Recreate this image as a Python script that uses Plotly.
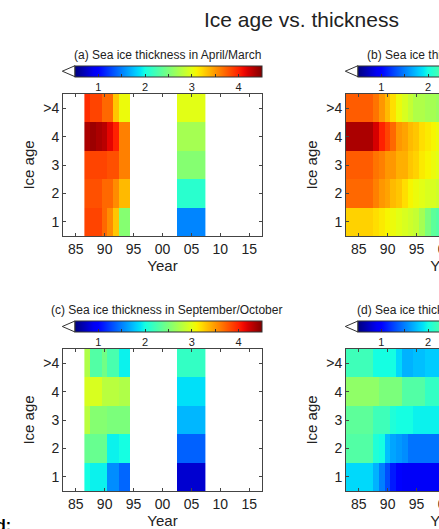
import plotly.graph_objects as go

# ---------------- data ----------------
age_labels = ["1", "2", "3", "4", ">4"]
age_pos = [1, 2, 3, 4, 5]
year_ticks = [1985, 1990, 1995, 2000, 2005, 2010, 2015]
year_ticktext = ["85", "90", "95", "00", "05", "10", "15"]
cbar_ticks = [1, 1.5, 2, 2.5, 3, 3.5, 4]
cbar_ticktext = ["1", "", "2", "", "3", "", "4"]

sub_years = [1987, 1988, 1989, 1990, 1991, 1992, 1993, 1994]
icesat_years = [2003, 2004, 2005, 2006, 2007]
model_years = list(range(1983, 2000))

# (a) spring observations: submarine rows by age (1,2,3,4,>4)
sub_spring = [
    [3.85, 3.85, 3.85, 3.70, 3.55, 3.30, 2.55, 2.55],
    [3.80, 3.80, 3.80, 3.70, 3.70, 3.55, 3.35, 3.35],
    [3.85, 3.85, 3.85, 3.85, 3.80, 3.80, 3.60, 3.60],
    [4.35, 4.40, 4.35, 4.30, 4.15, 4.00, 3.60, 3.60],
    [3.95, 3.85, 3.85, 3.70, 3.70, 3.30, 3.05, 3.05],
]
icesat_spring = [1.52, 2.10, 2.55, 2.70, 3.00]

# (c) autumn observations
sub_autumn = [
    [2.00, 1.95, 1.95, 1.95, 1.55, 1.55, 1.40, 1.40],
    [2.40, 2.40, 2.40, 2.40, 1.95, 1.95, 2.00, 2.00],
    [2.80, 2.55, 2.55, 2.55, 2.50, 2.50, 2.50, 2.50],
    [2.95, 2.95, 2.95, 2.80, 2.80, 2.80, 2.75, 2.75],
    [2.75, 2.30, 2.30, 2.45, 2.25, 2.25, 1.95, 1.95],
]
icesat_autumn = [0.78, 1.38, 1.72, 1.88, 2.15]

# (b) model spring, years 1983-1999
model_spring = [
    [3.25, 3.25, 3.25, 3.25, 3.25, 3.20, 3.15, 3.10, 3.05, 3.00, 2.95, 2.90, 2.85, 2.70, 2.50, 2.35, 2.30],
    [3.70, 3.70, 3.70, 3.70, 3.70, 3.60, 3.50, 3.45, 3.35, 3.30, 3.20, 3.10, 3.05, 3.00, 2.95, 2.95, 2.90],
    [3.75, 3.75, 3.75, 3.75, 3.75, 3.65, 3.60, 3.50, 3.50, 3.40, 3.40, 3.30, 3.25, 3.15, 3.10, 3.05, 3.00],
    [4.35, 4.35, 4.35, 4.35, 4.35, 4.20, 4.00, 3.85, 3.70, 3.50, 3.45, 3.35, 3.30, 3.20, 3.15, 3.10, 3.05],
    [3.75, 3.75, 3.75, 3.75, 3.75, 3.65, 3.50, 3.35, 3.20, 3.05, 2.95, 2.85, 2.75, 2.75, 2.70, 2.70, 2.65],
]
# (d) model autumn, years 1983-1999
model_autumn = [
    [1.85, 1.85, 1.85, 1.85, 1.85, 1.70, 1.50, 1.30, 1.10, 1.00, 0.95, 0.95, 0.95, 0.95, 0.95, 0.95, 0.95],
    [2.30, 2.30, 2.30, 2.30, 2.30, 2.05, 2.00, 1.75, 1.65, 1.60, 1.55, 1.45, 1.45, 1.45, 1.45, 1.45, 1.45],
    [2.35, 2.35, 2.35, 2.35, 2.35, 2.20, 2.20, 2.20, 2.05, 2.00, 2.00, 2.00, 1.95, 1.95, 1.95, 1.95, 1.95],
    [2.60, 2.60, 2.60, 2.60, 2.60, 2.60, 2.50, 2.50, 2.50, 2.50, 2.30, 2.30, 2.30, 2.30, 2.15, 2.15, 2.15],
    [2.20, 2.20, 2.20, 2.20, 2.20, 2.00, 2.00, 2.00, 2.00, 1.85, 1.70, 1.70, 1.75, 1.75, 1.80, 1.80, 1.80],
]

# ---------------- helpers ----------------
W, H = 560, 529
def px(v):
    return v / W
def py(v):
    return 1 - v / H

# jet colormap breakpoints (matplotlib style)
def jet(t):
    def interp(pts):
        for (x0, y0), (x1, y1) in zip(pts[:-1], pts[1:]):
            if x0 <= t <= x1:
                return y0 + (y1 - y0) * (t - x0) / (x1 - x0) if x1 > x0 else y1
        return pts[-1][1]
    r = interp([(0, 0), (0.35, 0), (0.66, 1), (0.89, 1), (1, 0.5)])
    g = interp([(0, 0), (0.125, 0), (0.375, 1), (0.64, 1), (0.91, 0), (1, 0)])
    b = interp([(0, 0.5), (0.11, 1), (0.34, 1), (0.65, 0), (1, 0)])
    return "rgb(%d,%d,%d)" % (round(r * 255), round(g * 255), round(b * 255))

jet_scale = [[i / 40, jet(i / 40)] for i in range(41)]

def obs_grid(sub, ice):
    years = list(range(sub_years[0], icesat_years[-1] + 1))
    z = []
    for k in range(len(age_pos)):
        row = []
        for y in years:
            if y in sub_years:
                row.append(sub[k][sub_years.index(y)])
            elif y in icesat_years:
                row.append(ice[k])
            else:
                row.append(None)
        z.append(row)
    return years, z

panels = {
    # name: (x0, x1, ytop, ybot)
    "a": (63, 262, 94, 236),
    "b": (346, 545, 94, 236),
    "c": (63, 262, 349, 491),
    "d": (346, 545, 349, 491),
}
cbar_top = {"a": 65.7, "b": 65.7, "c": 321.0, "d": 321.0}
cbar_th = 11
cbar_left_off = 12

fig = go.Figure()
shapes = []
ann = []
font_family = "Liberation Sans, Arial, Helvetica, sans-serif"
txt = "#222222"
axcol = "#444444"

data = {
    "a": obs_grid(sub_spring, icesat_spring),
    "b": (model_years, model_spring),
    "c": obs_grid(sub_autumn, icesat_autumn),
    "d": (model_years, model_autumn),
}

for i, name in enumerate(["a", "b", "c", "d"]):
    x0, x1, yt, yb = panels[name]
    years, z = data[name]
    sfx = "" if i == 0 else str(i + 1)
    bar_x0 = x0 + cbar_left_off
    fig.add_trace(go.Heatmap(
        x=years, y=age_pos, z=z,
        xaxis="x" + sfx, yaxis="y" + sfx,
        colorscale=jet_scale, zmin=0.5, zmax=4.5,
        hoverongaps=False,
        colorbar=dict(
            orientation="h",
            x=px((bar_x0 + x1) / 2), xanchor="center",
            y=py(cbar_top[name]), yanchor="top",
            len=x1 - bar_x0, lenmode="pixels",
            thickness=cbar_th, thicknessmode="pixels",
            xpad=0, ypad=0,
            outlinewidth=1, outlinecolor="#333333",
            ticks="inside", ticklen=3, tickcolor="#333333",
            tickvals=cbar_ticks, ticktext=cbar_ticktext,
            tickfont=dict(size=11, color=txt, family=font_family),
        ),
    ))
    common = dict(showline=True, linecolor=axcol, linewidth=1, mirror="ticks",
                  ticks="inside", ticklen=3, tickcolor=axcol, showgrid=False,
                  zeroline=False, tickfont=dict(size=14, color=txt, family=font_family))
    fig.layout["xaxis" + sfx] = dict(
        domain=[px(x0), px(x1)], anchor="y" + sfx, range=[1982.8, 2017.2],
        tickvals=year_ticks, ticktext=year_ticktext,
        title=dict(text="Year", font=dict(size=15, color=txt, family=font_family), standoff=0),
        **common)
    fig.layout["yaxis" + sfx] = dict(
        domain=[py(yb), py(yt)], anchor="x" + sfx, range=[0.5, 5.5],
        tickvals=age_pos, ticktext=age_labels,
        title=dict(text="Ice age", font=dict(size=15, color=txt, family=font_family), standoff=4),
        **common)
    # extend-min triangle of the colorbar
    ct = cbar_top[name]
    shapes.append(dict(
        type="path", xref="paper", yref="paper",
        path="M %f,%f L %f,%f L %f,%f Z" % (
            px(x0 - 0.7), py(ct + cbar_th / 2),
            px(bar_x0), py(ct),
            px(bar_x0), py(ct + cbar_th)),
        fillcolor="white", line=dict(color="#333333", width=1)))

titles = {
    "a": ("(a) Sea ice thickness in April/March", 71.7, 55),
    "b": ("(b) Sea ice thickness in April", 365, 55),
    "c": ("(c) Sea ice thickness in September/October", 49.3, 309.5),
    "d": ("(d) Sea ice thickness in September", 355, 309.5),
}
for k, (t, xl, yc) in titles.items():
    ann.append(dict(text=t, x=px(xl), y=py(yc), xref="paper", yref="paper",
                    xanchor="left", yanchor="middle", showarrow=False,
                    font=dict(size=12, color=txt, family=font_family)))

ann.append(dict(text="Ice age vs. thickness", x=px(301), y=py(19), xref="paper", yref="paper",
                xanchor="center", yanchor="middle", showarrow=False,
                font=dict(size=21, color=txt, family=font_family)))
ann.append(dict(text="<b>d:</b>", x=px(13), y=py(514.5), xref="paper", yref="paper",
                xanchor="right", yanchor="top", showarrow=False,
                font=dict(size=16, color="black", family=font_family)))

fig.update_layout(
    width=W, height=H, margin=dict(l=0, r=0, t=0, b=0),
    paper_bgcolor="white", plot_bgcolor="white",
    shapes=shapes, annotations=ann, showlegend=False,
    font=dict(family=font_family, color=txt),
)
fig.write_html("out.html")
